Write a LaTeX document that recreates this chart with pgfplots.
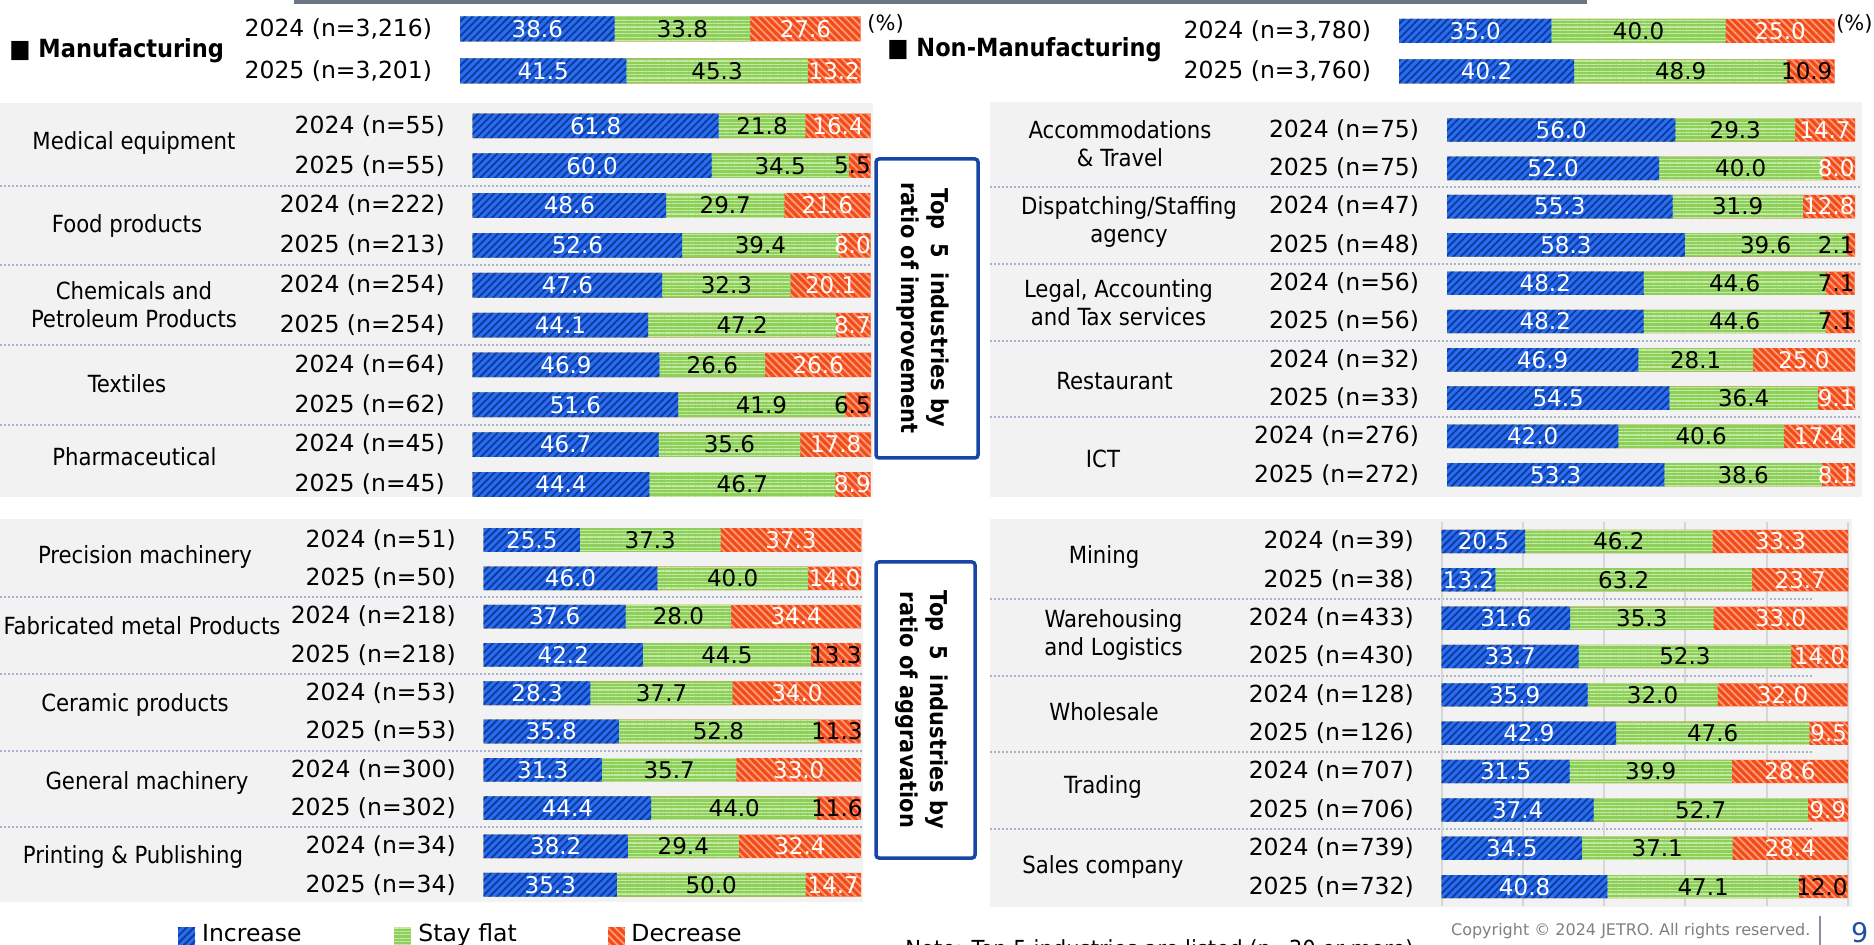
\documentclass[border=0pt]{standalone}
\usepackage{fontspec}
\setmainfont{DejaVu Sans}
\newfontfamily\condf{DejaVu Sans Condensed}
\usepackage{pgfplots}
\pgfplotsset{compat=1.18}
\usepackage{pgfplotstable}
\usetikzlibrary{patterns.meta}

\definecolor{incB}{HTML}{2A6CF0}
\definecolor{incL}{HTML}{0B3A9A}
\definecolor{flatG}{HTML}{8CD05A}
\definecolor{flatL}{HTML}{C6EAA6}
\definecolor{decR}{HTML}{F24A18}
\definecolor{decL}{HTML}{FF9C78}
\definecolor{panelbg}{HTML}{F2F2F2}
\definecolor{sepc}{HTML}{A8B2C8}
\definecolor{boxc}{HTML}{1846A6}
\definecolor{gridc}{HTML}{D6D6D6}
\definecolor{pagec}{HTML}{1F4FA0}

\newcommand\lblfont{\fontsize{11.75pt}{14pt}\selectfont}
\newcommand\catfont{\condf\fontsize{11.8pt}{14pt}\selectfont}
\newcommand\valfont{\fontsize{11.5pt}{13pt}\selectfont}

\tikzset{
  incfill/.style={fill=incB, postaction={pattern={Lines[angle=45,distance=2.6pt,line width=0.9pt]}, pattern color=incL}},
  flatfill/.style={fill=flatG, postaction={pattern={Lines[angle=0,distance=1.7pt,line width=0.6pt]}, pattern color=flatL}},
  decfill/.style={fill=decR, postaction={pattern={Lines[angle=-45,distance=2.6pt,line width=0.9pt]}, pattern color=decL}},
}

\pgfplotsset{
  panel/.style={
    scale only axis, anchor=north west, clip=false,
    xmin=0, xmax=100, ymin=-0.5, ymax=9.5, y dir=reverse,
    axis line style={draw=none}, major tick length=0pt,
    xtick=\empty, ytick={0,...,9},
    yticklabel style={font=\lblfont, anchor=east, inner sep=0pt, xshift=-13.75pt},
  },
}

\newcommand\prep[1]{%
 \pgfplotstablecreatecol[expr={\thisrow{inc}+\thisrow{flat}}]{c2}{#1}%
 \pgfplotstablecreatecol[expr={\thisrow{inc}+\thisrow{flat}+\thisrow{dec}}]{c3}{#1}%
 \pgfplotstablecreatecol[expr={\thisrow{inc}/2}]{m1}{#1}%
 \pgfplotstablecreatecol[expr={\thisrow{inc}+\thisrow{flat}/2}]{m2}{#1}%
 \pgfplotstablecreatecol[expr={min(\thisrow{inc}+\thisrow{flat}+\thisrow{dec}/2,100-4.6-1.8*(\thisrow{dec}>9.95))}]{m3}{#1}%
}

\newcommand\bars[2]{%
  \addplot[xbar, bar shift=0pt, bar width=#2, draw=none, decfill] table[x=c3,y=row]{#1};
  \addplot[xbar, bar shift=0pt, bar width=#2, draw=none, flatfill] table[x=c2,y=row]{#1};
  \addplot[xbar, bar shift=0pt, bar width=#2, draw=none, incfill] table[x=inc,y=row]{#1};
  \addplot[draw=none, mark=none, nodes near coords, point meta=explicit symbolic,
    every node near coord/.append style={anchor=center, font=\valfont, text=white, inner sep=0pt}]
    table[x=m1,y=row,meta=inc]{#1};
  \addplot[draw=none, mark=none, nodes near coords, point meta=explicit symbolic,
    every node near coord/.append style={anchor=center, font=\valfont, text=black, inner sep=0pt}]
    table[x=m2,y=row,meta=flat]{#1};
  \addplot[draw=none, mark=none, point meta=explicit symbolic,
    visualization depends on={\thisrow{dc} \as \dcol},
    nodes near coords={\ifdim\dcol pt>0.5pt \color{black}\else\color{white}\fi\pgfplotspointmeta},
    every node near coord/.append style={anchor=center, font=\valfont, inner sep=0pt}]
    table[x=m3,y=row,meta=dec]{#1};
}

\pgfplotstableread{
row inc flat dec dc
0 38.6 33.8 27.6 0
1 41.5 45.3 13.2 0
}\tTM
\pgfplotstableread{
row inc flat dec dc
0 35.0 40.0 25.0 0
1 40.2 48.9 10.9 1
}\tTN
\pgfplotstableread{
row inc flat dec dc
0 61.8 21.8 16.4 0
1 60.0 34.5 5.5 1
2 48.6 29.7 21.6 0
3 52.6 39.4 8.0 0
4 47.6 32.3 20.1 0
5 44.1 47.2 8.7 0
6 46.9 26.6 26.6 0
7 51.6 41.9 6.5 1
8 46.7 35.6 17.8 0
9 44.4 46.7 8.9 0
}\tUL
\pgfplotstableread{
row inc flat dec dc
0 25.5 37.3 37.3 0
1 46.0 40.0 14.0 0
2 37.6 28.0 34.4 0
3 42.2 44.5 13.3 1
4 28.3 37.7 34.0 0
5 35.8 52.8 11.3 1
6 31.3 35.7 33.0 0
7 44.4 44.0 11.6 1
8 38.2 29.4 32.4 0
9 35.3 50.0 14.7 0
}\tLL
\pgfplotstableread{
row inc flat dec dc
0 56.0 29.3 14.7 0
1 52.0 40.0 8.0 0
2 55.3 31.9 12.8 0
3 58.3 39.6 2.1 1
4 48.2 44.6 7.1 1
5 48.2 44.6 7.1 1
6 46.9 28.1 25.0 0
7 54.5 36.4 9.1 0
8 42.0 40.6 17.4 0
9 53.3 38.6 8.1 0
}\tUR
\pgfplotstableread{
row inc flat dec dc
0 20.5 46.2 33.3 0
1 13.2 63.2 23.7 0
2 31.6 35.3 33.0 0
3 33.7 52.3 14.0 0
4 35.9 32.0 32.0 0
5 42.9 47.6 9.5 0
6 31.5 39.9 28.6 0
7 37.4 52.7 9.9 0
8 34.5 37.1 28.4 0
9 40.8 47.1 12.0 1
}\tLR
\prep{\tTM}\prep{\tTN}\prep{\tUL}\prep{\tLL}\prep{\tUR}\prep{\tLR}

\begin{document}
\begin{tikzpicture}
% ---------- backgrounds and decorations (pixel units) ----------
\begin{scope}[x=0.5pt,y=-0.5pt]
  \fill[panelbg] (0,102.7) rectangle (873,497);
  \fill[panelbg] (0,519) rectangle (863,901.7);
  \fill[panelbg] (990,102) rectangle (1862,497);
  \fill[panelbg] (990,519) rectangle (1851.7,906.7);
  \fill[black!35!sepc] (294,0) rectangle (1587,3.8);
  \begin{scope}[sepc, line width=1pt, dash pattern=on 1pt off 1pt]
    \foreach \yy in {185.6,265.3,345,424.7} \draw (0,\yy) -- (872,\yy);
    \foreach \yy in {597.5,674.1,750.7,827.3} \draw (0,\yy) -- (862,\yy);
    \foreach \yy in {187.5,264,340.7,417.3} \draw (990,\yy) -- (1860,\yy);
    \foreach \yy in {599,675.7,752.4,829.1} \draw (990,\yy) -- (1812,\yy);
  \end{scope}
\end{scope}

% ---------- lower right (with grid) ----------
\begin{axis}[panel, at={(720.85pt,-261.15pt)}, width=203.15pt, height=191.75pt,
  xtick={0,20,...,100}, xticklabels={}, xmajorgrids, grid style={gridc, line width=1pt},
  yticklabels={{2024 (n=39)},{2025 (n=38)},{2024 (n=433)},{2025 (n=430)},{2024 (n=128)},{2025 (n=126)},{2024 (n=707)},{2025 (n=706)},{2024 (n=739)},{2025 (n=732)}}]
\bars{\tLR}{11.6pt}
\end{axis}

% ---------- top manufacturing ----------
\begin{axis}[panel, at={(230pt,-4pt)}, width=200.35pt, height=42pt, ymax=1.5, ytick={0,1},
  yticklabels={{2024 (n=3,216)},{2025 (n=3,201)}}]
\bars{\tTM}{12.5pt}
\end{axis}
% ---------- top non-manufacturing ----------
\begin{axis}[panel, at={(699.5pt,-5.375pt)}, width=217.8pt, height=40.5pt, ymax=1.5, ytick={0,1},
  yticklabels={{2024 (n=3,780)},{2025 (n=3,760)}}]
\bars{\tTN}{12pt}
\end{axis}

% ---------- upper left ----------
\begin{axis}[panel, at={(236.35pt,-52.95pt)}, width=199pt, height=199.25pt,
  yticklabels={{2024 (n=55)},{2025 (n=55)},{2024 (n=222)},{2025 (n=213)},{2024 (n=254)},{2025 (n=254)},{2024 (n=64)},{2025 (n=62)},{2024 (n=45)},{2025 (n=45)}}]
\bars{\tUL}{12.3pt}
\end{axis}

% ---------- lower left ----------
\begin{axis}[panel, at={(241.85pt,-260.43pt)}, width=188.65pt, height=191.5pt,
  yticklabels={{2024 (n=51)},{2025 (n=50)},{2024 (n=218)},{2025 (n=218)},{2024 (n=53)},{2025 (n=53)},{2024 (n=300)},{2025 (n=302)},{2024 (n=34)},{2025 (n=34)}}]
\bars{\tLL}{11.8pt}
\end{axis}

% ---------- upper right ----------
\begin{axis}[panel, at={(723.5pt,-55.43pt)}, width=204pt, height=191.5pt,
  yticklabels={{2024 (n=75)},{2025 (n=75)},{2024 (n=47)},{2025 (n=48)},{2024 (n=56)},{2025 (n=56)},{2024 (n=32)},{2025 (n=33)},{2024 (n=276)},{2025 (n=272)}}]
\bars{\tUR}{11.7pt}
\end{axis}

% ---------- texts ----------
\begin{scope}[x=0.5pt,y=-0.5pt]
  \node[font=\condf\bfseries\fontsize{12.5pt}{14pt}\selectfont, anchor=west, inner sep=0pt] at (9,51) {■ Manufacturing};
  \node[font=\condf\bfseries\fontsize{12.5pt}{14pt}\selectfont, anchor=west, inner sep=0pt] at (887,50) {■ Non-Manufacturing};
  \node[font=\fontsize{10.5pt}{12pt}\selectfont, anchor=west, inner sep=0pt] at (867,24) {(\%)};
  \node[font=\fontsize{10.5pt}{12pt}\selectfont, anchor=east, inner sep=0pt] at (1873,24) {(\%)};
  \begin{scope}[every node/.style={font=\catfont, align=center, inner sep=0pt}]
    \node at (134,143.4) {Medical equipment};
    \node at (127,226) {Food products};
    \node at (134,304.5) {Chemicals and\\Petroleum Products};
    \node at (127,383.7) {Textiles};
    \node at (134.5,456.6) {Pharmaceutical};
    \node at (145,557) {Precision machinery};
    \node at (142,626) {Fabricated metal Products};
    \node at (135,705) {Ceramic products};
    \node at (147,783) {General machinery};
    \node at (133,857) {Printing \& Publishing};
    \node at (1120,143.5) {Accommodations\\\& Travel};
    \node at (1129,221.7) {Dispatching/Staffing\\agency};
    \node at (1118.5,302.3) {Legal, Accounting\\and Tax services};
    \node at (1114.5,381.3) {Restaurant};
    \node at (1103,459) {ICT};
    \node at (1104,557) {Mining};
    \node at (1113.5,634.5) {Warehousing\\and Logistics};
    \node at (1104,712) {Wholesale};
    \node at (1103,786.5) {Trading};
    \node at (1103,866.5) {Sales company};
  \end{scope}
  \draw[boxc, line width=1.75pt, fill=white, rounded corners=1.5pt] (876,159) rectangle (978,458);
  \draw[boxc, line width=1.75pt, fill=white, rounded corners=1.5pt] (876,562) rectangle (975,858);
  \node[rotate=-90, font=\condf\bfseries\fontsize{11.6pt}{15pt}\selectfont, align=center, inner sep=0pt] at (923,308) {Top\ \ 5\ \ industries by\\ratio of improvement};
  \node[rotate=-90, font=\condf\bfseries\fontsize{11.6pt}{15pt}\selectfont, align=center, inner sep=0pt] at (922,710) {Top\ \ 5\ \ industries by\\ratio of aggravation};
  \fill[incfill] (178,927) rectangle (195,945);
  \fill[flatfill] (394,927) rectangle (411,945);
  \fill[decfill] (608,927) rectangle (625,945);
  \node[font=\lblfont, anchor=base west, inner sep=0pt] at (201.7,941) {Increase};
  \node[font=\lblfont, anchor=base west, inner sep=0pt] at (418,941) {Stay flat};
  \node[font=\lblfont, anchor=base west, inner sep=0pt] at (631,941) {Decrease};
  \node[font=\condf\fontsize{11.75pt}{14pt}\selectfont, anchor=base west, inner sep=0pt] at (905,957) {Note: Top 5 industries are listed (n=30 or more)};
  \node[font=\fontsize{8pt}{10pt}\selectfont, text=black!50, anchor=west, inner sep=0pt] at (1450.7,930.7) {Copyright © 2024 JETRO. All rights reserved.};
  \draw[sepc!80!black, line width=1pt] (1820,916) -- (1820,945);
  \node[font=\fontsize{13.5pt}{16pt}\selectfont, text=pagec, anchor=west, inner sep=0pt] at (1850.7,932.5) {9};
\end{scope}

\pgfresetboundingbox
\path[use as bounding box] (0pt,0pt) rectangle (937pt,-472.5pt);
\end{tikzpicture}
\end{document}
